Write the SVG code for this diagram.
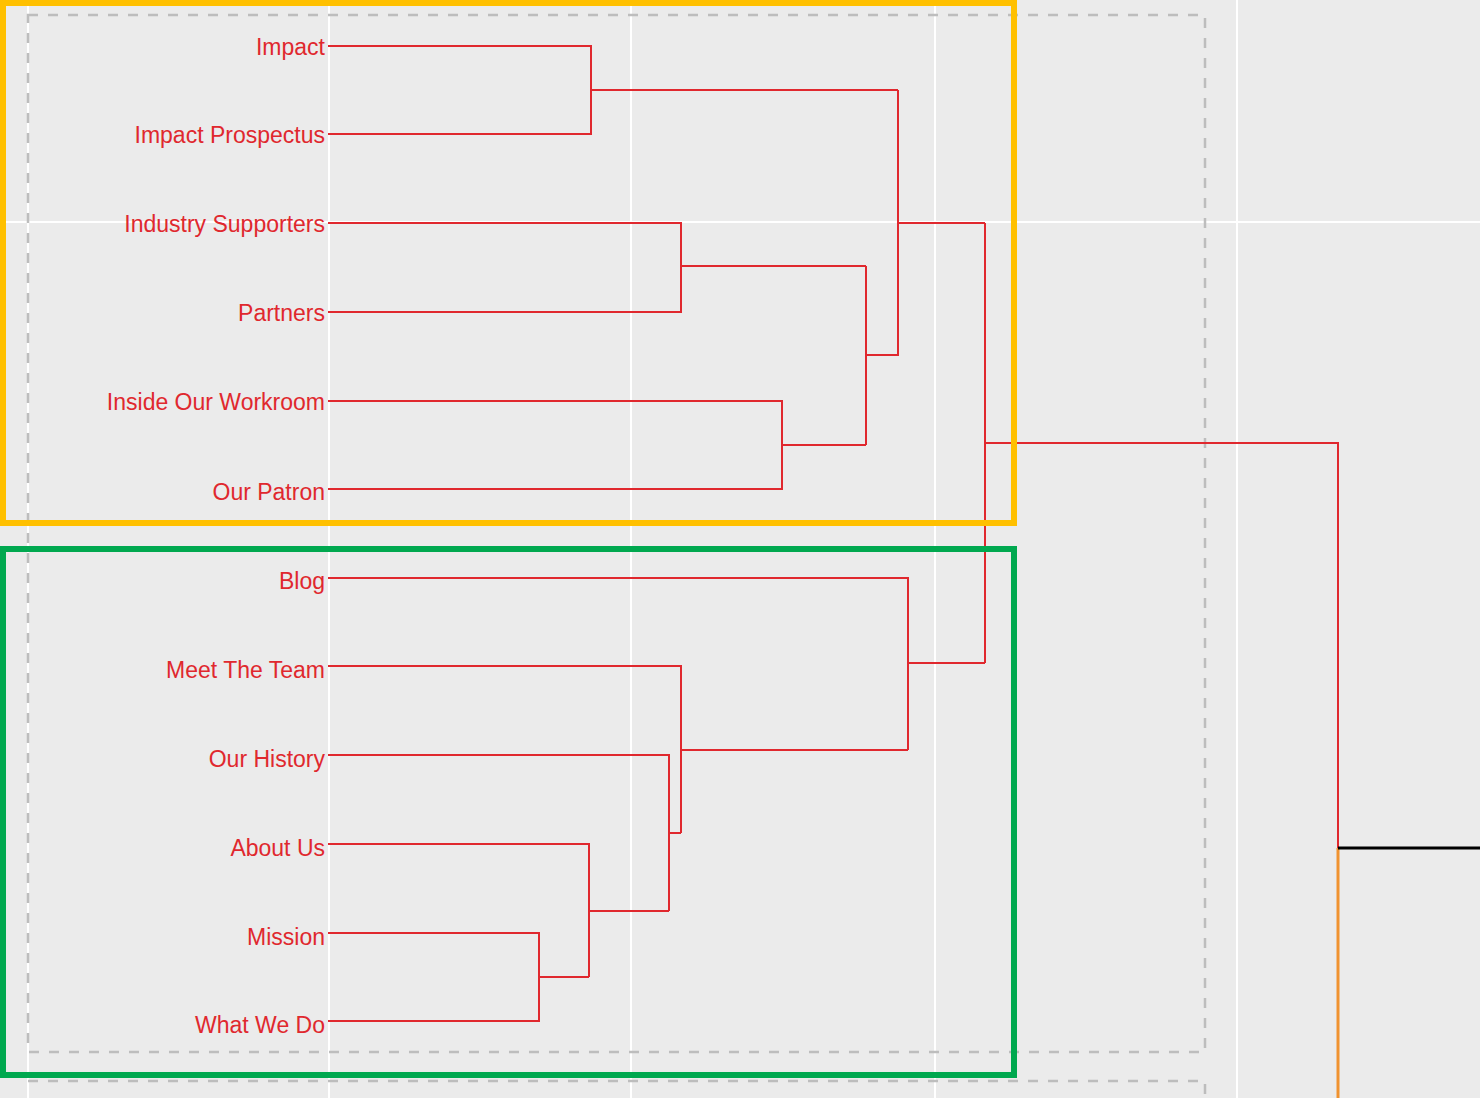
<svg xmlns="http://www.w3.org/2000/svg" width="1480" height="1098" viewBox="0 0 1480 1098">
<style>
.g{stroke:#fff;stroke-width:2}
.d{fill:none;stroke:#bdbdbd;stroke-width:2.5;stroke-dasharray:10 10}
.l{fill:none;stroke:#e0282e;stroke-width:2}
.t{font-family:"Liberation Sans",Arial,sans-serif;font-size:23px;fill:#e0282e;text-anchor:end}
</style>
<rect width="1480" height="1098" fill="#ebebeb"/>
<g id="grid">
<line class="g" x1="28" y1="0" x2="28" y2="1098"/>
<line class="g" x1="329" y1="0" x2="329" y2="1098"/>
<line class="g" x1="631" y1="0" x2="631" y2="1098"/>
<line class="g" x1="935" y1="0" x2="935" y2="1098"/>
<line class="g" x1="1237" y1="0" x2="1237" y2="1098"/>
<line class="g" x1="0" y1="222" x2="1480" y2="222"/>
</g>
<rect class="d" x="28" y="15" width="1177" height="1037"/>
<path class="d" d="M28 1081H1205V1098"/>
<g id="labels">
<text class="t" x="325" y="55">Impact</text>
<text class="t" x="325" y="143">Impact Prospectus</text>
<text class="t" x="325" y="232">Industry Supporters</text>
<text class="t" x="325" y="321">Partners</text>
<text class="t" x="325" y="410">Inside Our Workroom</text>
<text class="t" x="325" y="500">Our Patron</text>
<text class="t" x="325" y="589">Blog</text>
<text class="t" x="325" y="678">Meet The Team</text>
<text class="t" x="325" y="767">Our History</text>
<text class="t" x="325" y="856">About Us</text>
<text class="t" x="325" y="945">Mission</text>
<text class="t" x="325" y="1033">What We Do</text>
</g>
<g id="connectors">
<path class="l" d="M328 46H591V134H328M591 90H898"/>
<path class="l" d="M328 223H681V312H328M681 266H866"/>
<path class="l" d="M328 401H782V489H328M782 445H866"/>
<path class="l" d="M866 266V445M866 355H898V90"/>
<path class="l" d="M898 223H985"/>
<path class="l" d="M328 933H539V1021H328M539 977H589"/>
<path class="l" d="M328 844H589V977M589 911H669"/>
<path class="l" d="M328 755H669V911M669 833H681"/>
<path class="l" d="M328 666H681V833M681 750H908"/>
<path class="l" d="M328 578H908V750M908 663H985"/>
<path class="l" d="M985 223V663M985 443H1338V848"/>
<line x1="1338" y1="848" x2="1338" y2="1098" stroke="#f0922f" stroke-width="3"/>
<line x1="1338" y1="848" x2="1480" y2="848" stroke="#000" stroke-width="3"/>
</g>
<rect id="yellow" x="3" y="3" width="1011" height="520" fill="none" stroke="#ffc000" stroke-width="6"/>
<rect id="green" x="3" y="549" width="1011" height="526" fill="none" stroke="#00a84f" stroke-width="6"/>
</svg>
